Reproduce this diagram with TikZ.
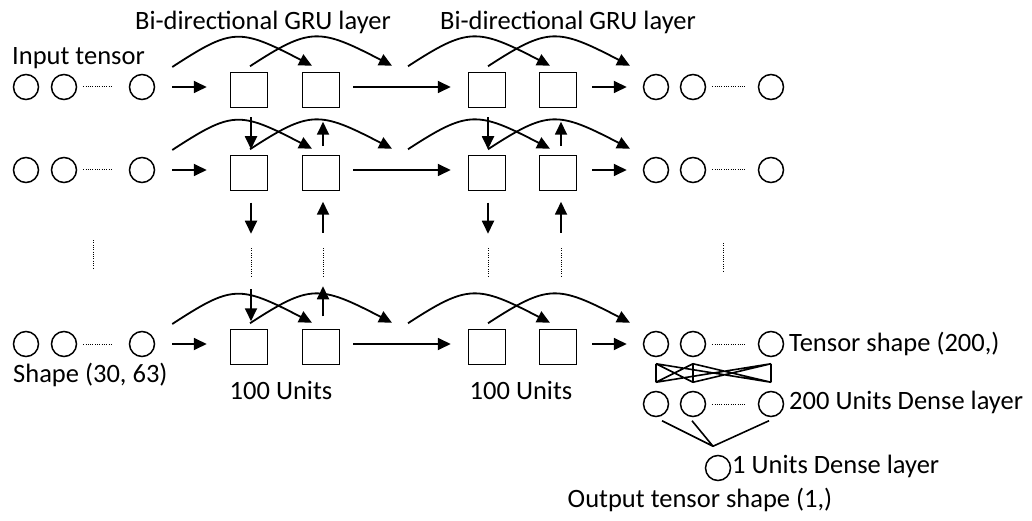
\documentclass[tikz,border=0pt]{standalone}
\usepackage{fontspec}
\setmainfont{Carlito}
\usetikzlibrary{arrows.meta}
% one row of the sequence: #1 row name, #2 height of the row
\newcommand{\gruline}[2]{
  \node[neuron] (x#1a) at (26,#2) {};
  \node[neuron] (x#1b) at (64,#2) {};
  \node[neuron] (x#1c) at (142,#2) {};
  \node[gru] (ga#1) at (249,#2+3) {};
  \node[gru] (gb#1) at (321,#2+3) {};
  \node[gru] (gc#1) at (487,#2+3) {};
  \node[gru] (gd#1) at (558,#2+3) {};
  \node[neuron] (y#1a) at (656,#2) {};
  \node[neuron] (y#1b) at (693,#2) {};
  \node[neuron] (y#1c) at (771,#2) {};
  \draw[gap,shorten <=6pt,shorten >=16pt] (x#1b.east) -- (x#1c.west);
  \draw[gap,shorten <=6pt,shorten >=13pt] (y#1b.east) -- (y#1c.west);
  \draw[flow,shorten <=17pt,shorten >=23pt] (x#1c.east) -- (x#1c.east -| ga#1.west);
  \draw[flow,shorten <=13pt,shorten >=17pt] (gb#1.east |- x#1c) -- (gc#1.west |- x#1c);
  \draw[flow,shorten <=15pt,shorten >=16pt] (gd#1.east |- y#1a) -- (y#1a.west);
  \draw[flow] ([shift={(17,-20)}]x#1c.east) .. controls +(60,-39) and +(-73,-38) .. ([shift={(-9,-6)}]gb#1.north);
  \draw[flow] ([shift={(1,-5.5)}]ga#1.north) .. controls +(60,-39) and +(-73,-38) .. ([shift={(71,-6)}]gb#1.north);
  \draw[flow] ([shift={(-79,-5.5)}]gc#1.north) .. controls +(60,-39) and +(-73,-38) .. ([shift={(-8,-6)}]gd#1.north);
  \draw[flow] ([shift={(1,-5.5)}]gc#1.north) .. controls +(60,-39) and +(-73,-38) .. ([shift={(72,-6)}]gd#1.north);
}

\begin{document}
\begin{tikzpicture}[x=1pt,y=-1pt,
    neuron/.style={draw,circle,minimum size=25pt,inner sep=0pt,line width=1.5pt},
    gru/.style={draw,minimum width=37pt,minimum height=35pt,inner sep=0pt,line width=1.5pt},
    flow/.style={-{Triangle[length=13pt,width=12pt]},line width=1.8pt},
    link/.style={line width=1.6pt},
    gap/.style={line width=1pt,dash pattern=on 1pt off 1.3pt},
    note/.style={inner sep=0pt,font=\fontsize{26.5}{31}\selectfont}]
  \useasboundingbox (0,0) rectangle (1032,521);

  \gruline{1}{87}
  \gruline{2}{170}
  \gruline{3}{344}

  % links between the rows
  \draw[flow,shorten <=9pt,shorten >=5.5pt] ([xshift=2pt]ga1.south) -- ([xshift=2pt]ga2.north);
  \draw[flow,shorten <=8.5pt,shorten >=13.5pt] ([xshift=2pt]gb2.north) -- ([xshift=2pt]gb1.south);
  \draw[flow,shorten <=9pt,shorten >=5.5pt] ([xshift=1pt]gc1.south) -- ([xshift=1pt]gc2.north);
  \draw[flow,shorten <=8.5pt,shorten >=13.5pt] ([xshift=3pt]gd2.north) -- ([xshift=3pt]gd1.south);
  \draw[flow,shorten <=11.5pt] ([xshift=2pt]ga2.south) -- ++(0,42.5);
  \draw[flow,shorten >=10.5pt] ([shift={(2,41.5)}]gb2.south) -- ([xshift=2pt]gb2.south);
  \draw[flow,shorten <=11.5pt] ([xshift=1pt]gc2.south) -- ++(0,42.5);
  \draw[flow,shorten >=10.5pt] ([shift={(3,41.5)}]gd2.south) -- ([xshift=3pt]gd2.south);
  \draw[flow,shorten >=7.5pt] ([shift={(2,-39.5)}]ga3.north) -- ([xshift=2pt]ga3.north);
  \draw[flow,shorten <=12.5pt] ([xshift=2pt]gb3.north) -- ++(0,-42.5);

  % rows left out
  \draw[gap] (93,240) -- (93,268);
  \draw[gap] (251,248) -- (251,277);
  \draw[gap] (323,248) -- (323,277);
  \draw[gap] (488,248) -- (488,277);
  \draw[gap] (561,248) -- (561,277);
  \draw[gap] (723,243) -- (723,272);

  % dense part
  \node[neuron] (da) at (656,404) {};
  \node[neuron] (db) at (693,404) {};
  \node[neuron] (dc) at (771,404) {};
  \node[neuron] (o) at (718,468) {};
  \draw[gap,shorten <=6pt,shorten >=13pt] (db.east) -- (dc.west);
  \draw[link] ([yshift=-6.5pt]y3a.south) -- ([yshift=8.5pt]da.north)
              ([yshift=-6.5pt]y3a.south) -- ([yshift=8.5pt]db.north)
              ([yshift=-6.5pt]y3a.south) -- ([yshift=8.5pt]dc.north)
              ([yshift=-6.5pt]y3b.south) -- ([yshift=8.5pt]da.north)
              ([yshift=-6.5pt]y3b.south) -- ([yshift=8.5pt]db.north)
              ([yshift=-6.5pt]y3b.south) -- ([yshift=8.5pt]dc.north)
              ([yshift=-6.5pt]y3c.south) -- ([yshift=8.5pt]da.north)
              ([yshift=-6.5pt]y3c.south) -- ([yshift=8.5pt]db.north)
              ([yshift=-6.5pt]y3c.south) -- ([yshift=8.5pt]dc.north);
  \coordinate (join) at ([shift={(-5,-8.5)}]o.north);
  \draw[link] ([shift={(6,3.5)}]da.south) -- (join)
              ([shift={(-1,3.5)}]db.south) -- (join)
              ([shift={(-2,3.5)}]dc.south) -- (join);

  % texts
  \node[note] (tgru1) at (263,22) {Bi-directional GRU layer};
  \node[note] (tgru2) at (568,22) {Bi-directional GRU layer};
  \node[note,anchor=west] (tin) at (12,58) {Input tensor};
  \node[note,anchor=west] (tshape) at (13,375) {Shape (30, 63)};
  \node[note] (tunits1) at (281,390) {100 Units};
  \node[note] (tunits2) at (521,390) {100 Units};
  \node[note,anchor=west] (ttensor) at (789,344) {Tensor shape (200,)};
  \node[note,anchor=west] (tdense) at (789,402) {200 Units Dense layer};
  \node[note,anchor=west] (tone) at (732,466) {1 Units Dense layer};
  \node[note] (tout) at (700,500) {Output tensor shape (1,)};
\end{tikzpicture}
\end{document}
